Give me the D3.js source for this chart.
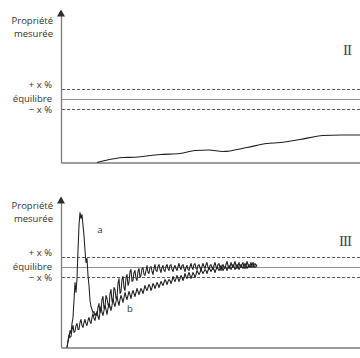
<!DOCTYPE html>
<html><head><meta charset="utf-8">
<script src="https://cdn.jsdelivr.net/npm/d3@7"></script>
<style>
html,body{margin:0;padding:0;background:#fff;}
svg{display:block;}
.lab{font-family:"Open Sans",sans-serif;font-size:9.5px;fill:#333;}
.roman{font-family:"Liberation Serif",serif;font-size:15px;fill:#444;letter-spacing:-1px;}
</style>
</head><body>
<script>
// ---- data ----
const axisTitle = ["Propriété", "mesurée"];
const bandLabels = ["+ x %", "équilibre", "− x %"];
const bandValues = [110, 100, 90];
const panelNames = ["II", "III"];
const curveLabels = ["a", "b"];

// panel II: slow drift (time, value)
const curveII = [[36,37],[44,39],[62,42],[74,42.3],[99,45],[119,46],[134,49],[148,49.5],[162,48],[186,52],[206,56],[219,57],[239,60],[262,64],[280,64.5],[299,64.5]];

// panel III curve a: overshoot then noisy settling
const curveA = [[6,20],[7,26],[8,30],[9,37],[10,34],[11,44],[12,50],[13,67],[14,85],[15,75],[16,89],[17,117],[18,142],[19,155],[20,149],[21,153],[22,142],[23,132],[24,117],[25,105],[26,109],[27,92],[28,82],[29,67],[30,61],[31,58],[32,55],[33,56],[34,52],[35,54],
[36,52],[37,60],[38,64],[39,55],[40,58],[41,68],[42,71],[43,59],[44,61],[45,72],[46,69],[47,63],[48,60],[49,74],[50,78],[51,66],[52,67],[53,80],[54,78],[55,69],[56,70],[57,84],[58,89],[59,74],[60,76],[61,88],[62,91],[63,80],[64,77],[65,90],[66,93],[67,82],[68,85],[69,96],[70,98],[71,86],[72,87],[73,95],[74,97],[75,89],[76,87],[77,96],[78,99],[79,90],[80,92],[81,99],[82,100],[83,93],[84,92],[85,97],[86,102],[87,95],[88,94],[89,100],[90,101],[91,96],[92,93],[93,99],[94,103],[95,97],[96,96],[97,101],[98,103],[99,98],[100,95],[101,100],[102,102],[103,97],[104,96],[105,101],[106,103],[107,99],[108,97],[109,102],[110,103],[111,98],[112,96],[113,100],[114,102],[115,99],[116,97],[117,101],[118,104],[119,100],[120,98],[121,102],[122,103],[123,99],[124,96],[125,100],[126,102],[127,98],[128,97],[129,101],[130,104],[131,100],[132,98],[133,103],[134,104],[135,99],[136,98],[137,102],[138,103],[139,100],[140,97],[141,101],[142,104],[143,101],[144,99],[145,103],[146,105],[147,100],[148,98],[149,102],[150,103],[151,100],[152,98],[153,102],[154,105],[155,101],[156,99],[157,103],[158,104],[159,100],[160,97],[161,101],[162,103],[163,100],[164,99],[165,103],[166,106],[167,102],[168,99],[169,101],[170,105],[171,102],[172,100],[173,103],[174,106],[175,102],[176,99],[177,102],[178,105],[179,101],[180,100],[181,103],[182,105],[183,101],[184,99],[185,102],[186,106],[187,103],[188,100],[189,102],[190,105],[191,101],[192,100],[193,103],[194,104],[195,102],[196,101]];

// panel III curve b: slow noisy approach
const curveB = [[6,20],[7,27],[8,33],[9,30],[10,31],[11,38],[12,42],[13,35],[14,36],[15,42],[16,44],[17,38],[18,38],[19,45],[20,48],[21,42],[22,40],[23,45],[24,48],[25,44],[26,42],[27,47],[28,50],[29,46],[30,44],[31,50],[32,54],[33,49],[34,47],[35,52],[36,56],[37,51],[38,48],[39,55],[40,61],[41,55],[42,52],[43,57],[44,62],[45,58],[46,53],[47,59],[48,64],[49,61],[50,57],[51,62],[52,69],[53,64],[54,61],[55,66],[56,71],[57,66],[58,62],[59,68],[60,72],[61,69],[62,65],[63,70],[64,75],[65,71],[66,68],[67,72],[68,76],[69,73],[70,69],[71,74],[72,77],[73,74],[74,71],[75,75],[76,79],[77,76],[78,73],[79,76],[80,79],[81,77],[82,74],[83,78],[84,82],[85,79],[86,77],[87,80],[88,83],[89,81],[90,77],[91,80],[92,84],[93,82],[94,79],[95,82],[96,85],[97,83],[98,80],[99,83],[100,86],[101,84],[102,82],[103,85],[104,88],[105,86],[106,83],[107,86],[108,88],[109,87],[110,84],[111,87],[112,91],[113,88],[114,86],[115,89],[116,92],[117,89],[118,86],[119,89],[120,92],[121,90],[122,87],[123,90],[124,94],[125,91],[126,89],[127,92],[128,95],[129,92],[130,89],[131,92],[132,95],[133,93],[134,90],[135,93],[136,97],[137,95],[138,93],[139,95],[140,98],[141,96],[142,94],[143,96],[144,98],[145,97],[146,94],[147,97],[148,100],[149,98],[150,96],[151,98],[152,100],[153,98],[154,95],[155,98],[156,100],[157,99],[158,97],[159,99],[160,102],[161,100],[162,97],[163,99],[164,101],[165,100],[166,97],[167,100],[168,102],[169,100],[170,98],[171,100],[172,103],[173,101],[174,98],[175,100],[176,103],[177,101],[178,98],[179,100],[180,103],[181,101],[182,99],[183,101],[184,104],[185,102],[186,99],[187,101],[188,103],[189,102],[190,100],[191,102],[192,105],[193,102],[194,100],[195,101],[196,103]];

// ---- drawing ----
const W = 360, H = 358;
const svg = d3.select("body").append("svg").attr("width", W).attr("height", H);
const x = d3.scaleLinear().domain([0, 299]).range([61, 360]);

const panels = [
  {name: panelNames[0], y: d3.scaleLinear().domain([37, 189]).range([162.5, 10.5]), titleY: [23.5, 36.5], nameY: 55, series: [curveII], sw: 1.1},
  {name: panelNames[1], y: d3.scaleLinear().domain([20, 170]).range([347.5, 197.5]), titleY: [208.5, 221.5], nameY: 246, series: [curveA, curveB], sw: 1.05}
];
const labelOffsets = [-1.5, 2, 3.5];

panels.forEach((p, pi) => {
  const g = svg.append("g");
  const y = p.y;
  bandValues.forEach((v, i) => {
    g.append("line").attr("x1", x(0) + 1).attr("x2", W)
      .attr("y1", y(v)).attr("y2", y(v))
      .attr("stroke", i === 1 ? "#8d90a3" : "#4a4a4a")
      .attr("stroke-width", i === 1 ? 1.1 : 0.9)
      .attr("stroke-dasharray", i === 1 ? null : "3.2,1.8");
    g.append("text").attr("class", "lab").attr("text-anchor", "end")
      .attr("x", 52).attr("y", y(v) + labelOffsets[i]).text(bandLabels[i]);
  });
  const yAx = g.append("g").attr("transform", `translate(${x(0)},0)`)
    .call(d3.axisLeft(y).tickValues([]).tickSizeOuter(0));
  yAx.select(".domain").attr("stroke", "#7c7c7c").attr("stroke-width", 1.3);
  const xAx = g.append("g").attr("transform", `translate(0,${y.range()[0]})`)
    .call(d3.axisBottom(x).tickValues([]).tickSizeOuter(0));
  xAx.select(".domain").attr("stroke", "#7c7c7c").attr("stroke-width", 1.3);
  const top = y.range()[1];
  g.append("path").attr("d", `M${x(0)},${top - 1} L${x(0) - 4},${top + 6} L${x(0) + 4},${top + 6} Z`).attr("fill", "#2e2e2e");
  axisTitle.forEach((t, i) => g.append("text").attr("class", "lab").attr("text-anchor", "end")
    .attr("x", 53).attr("y", p.titleY[i]).text(t));
  g.append("text").attr("class", "roman").attr("text-anchor", "end").attr("x", 351).attr("y", p.nameY).text(p.name);
  const line = d3.line().x(d => x(d[0])).y(d => y(d[1]));
  if (pi === 0) line.curve(d3.curveMonotoneX);
  p.series.forEach(s => g.append("path").datum(s).attr("d", line)
    .attr("fill", "none").attr("stroke", "#1e1e1e").attr("stroke-width", p.sw).attr("stroke-linejoin", "round"));
});
const yb = panels[1].y;
svg.append("text").attr("class", "lab").attr("font-size", "10.5px").attr("text-anchor", "middle")
  .attr("x", x(39)).attr("y", yb(135)).text(curveLabels[0]);
svg.append("text").attr("class", "lab").attr("font-size", "10.5px").attr("text-anchor", "middle")
  .attr("x", x(69)).attr("y", yb(56)).text(curveLabels[1]);
</script>
</body></html>
